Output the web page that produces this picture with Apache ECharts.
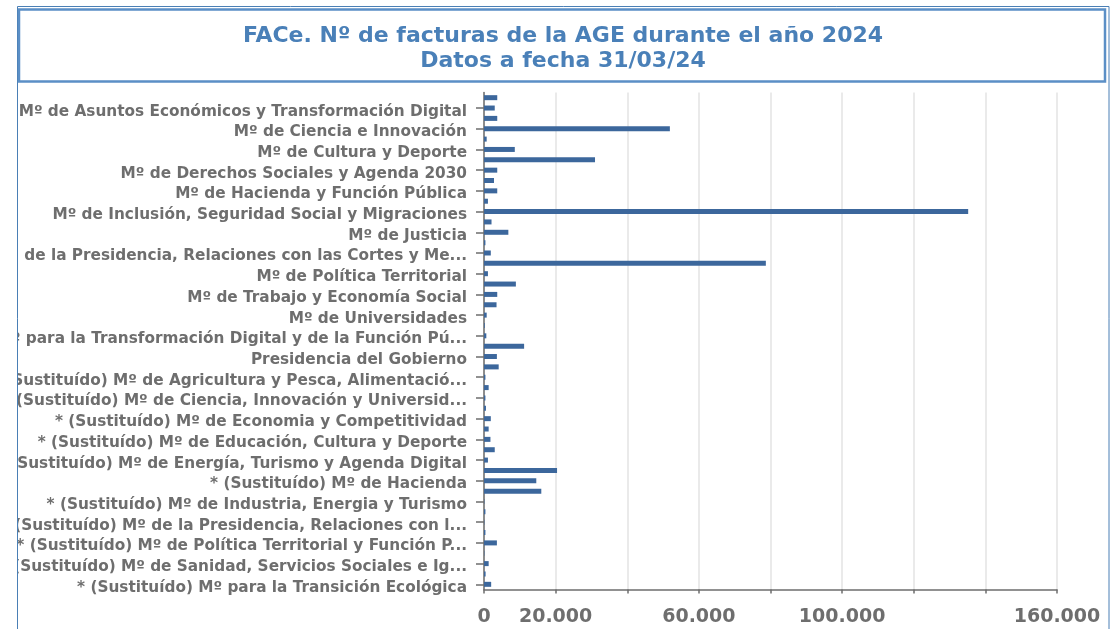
<!DOCTYPE html>
<html>
<head>
<meta charset="utf-8">
<script src="https://cdn.jsdelivr.net/npm/echarts@6/dist/echarts.min.js"></script>
<style>
html, body { margin: 0; padding: 0; background: #fff; }
#chart { width: 1116px; height: 629px; }
</style>
</head>
<body>
<div id="chart"></div>
<script>
// ministerios (orden del original, de arriba abajo)
var ministerios = [
    'Mº de Agricultura, Pesca y Alimentación',
    'Mº de Asuntos Económicos y Transformación Digital',
    'Mº de Asuntos Exteriores, Unión Europea y Cooperación',
    'Mº de Ciencia e Innovación',
    'Mº de Consumo',
    'Mº de Cultura y Deporte',
    'Mº de Defensa',
    'Mº de Derechos Sociales y Agenda 2030',
    'Mº de Educación y Formación Profesional',
    'Mº de Hacienda y Función Pública',
    'Mº de Igualdad',
    'Mº de Inclusión, Seguridad Social y Migraciones',
    'Mº de Industria, Comercio y Turismo',
    'Mº de Justicia',
    'Mº de Juventud e Infancia',
    'Mº de la Presidencia, Relaciones con las Cortes y Memoria Democrática',
    'Mº del Interior',
    'Mº de Política Territorial',
    'Mº de Sanidad',
    'Mº de Trabajo y Economía Social',
    'Mº de Transportes y Movilidad Sostenible',
    'Mº de Universidades',
    'Mº de Vivienda y Agenda Urbana',
    'Mº para la Transformación Digital y de la Función Pública',
    'Mº para la Transición Ecológica y el Reto Demográfico',
    'Presidencia del Gobierno',
    '* (Sustituído) Mº de Agricultura, Alimentación y Medio Ambiente',
    '* (Sustituído) Mº de Agricultura y Pesca, Alimentación y Medio Ambiente',
    '* (Sustituído) Mº de Asuntos Exteriores y de Cooperación',
    '* (Sustituído) Mº de Ciencia, Innovación y Universidades',
    '* (Sustituído) Mº de Cultura y Deporte',
    '* (Sustituído) Mº de Economia y Competitividad',
    '* (Sustituído) Mº de Economía y Empresa',
    '* (Sustituído) Mº de Educación, Cultura y Deporte',
    '* (Sustituído) Mº de Educación y Formación Profesional',
    '* (Sustituído) Mº de Energía, Turismo y Agenda Digital',
    '* (Sustituído) Mº de Fomento',
    '* (Sustituído) Mº de Hacienda',
    '* (Sustituído) Mº de Hacienda y Administraciones Públicas',
    '* (Sustituído) Mº de Industria, Energia y Turismo',
    '* (Sustituído) Mº de Justicia',
    '* (Sustituído) Mº de la Presidencia, Relaciones con las Cortes e Igualdad',
    '* (Sustituído) Mº de la Presidencia y para las Administraciones Territoriales',
    '* (Sustituído) Mº de Política Territorial y Función Pública',
    '* (Sustituído) Mº de Sanidad, Consumo y Bienestar Social',
    '* (Sustituído) Mº de Sanidad, Servicios Sociales e Igualdad',
    '* (Sustituído) Mº de Trabajo, Migraciones y Seguridad Social',
    '* (Sustituído) Mº para la Transición Ecológica'
];
// nº de facturas
var facturas = [
    3700, 3000, 3700, 51900, 750, 8600, 31000, 3700, 2800, 3700,
    1100, 135200, 2100, 6800, 400, 1900, 78700, 1100, 8900, 3700,
    3500, 750, 200, 650, 11200, 3600, 4100, 400, 1300, 400,
    550, 1900, 1300, 1800, 3000, 1100, 20400, 14600, 16000, 100,
    400, 100, 400, 3600, 100, 1300, 450, 2000
];
// etiquetas del eje x que se ven
var xTickLabels = [0, 20000, 60000, 100000, 160000];

var titulo = 'FACe. Nº de facturas de la AGE durante el año 2024\nDatos a fecha 31/03/24';

function miles(v) {
    return String(v).replace(/\B(?=(\d{3})+(?!\d))/g, '.');
}

var myChart = echarts.init(document.getElementById('chart'));
var option = {
    animation: false,
    title: {
        text: titulo,
        left: 563,
        top: 24,
        textAlign: 'center',
        padding: 0,
        textStyle: {
            fontFamily: 'DejaVu Sans',
            fontWeight: 'bold',
            fontSize: 22,
            lineHeight: 25,
            color: '#4a80b8'
        }
    },
    tooltip: {
        trigger: 'item'
    },
    grid: {
        left: 484,
        right: 59,
        top: 92.5,
        height: 497,
        containLabel: false,
        outerBoundsMode: 'none'
    },
    xAxis: {
        type: 'value',
        min: 0,
        max: 160000,
        interval: 20000,
        axisLine: {
            show: true,
            lineStyle: { color: '#6e6e6e', width: 1.5 }
        },
        axisTick: {
            show: true,
            length: 4,
            lineStyle: { color: '#6e6e6e', width: 1.5 }
        },
        splitLine: {
            show: true,
            lineStyle: { color: '#e3e3e3', width: 1.5 }
        },
        axisLabel: {
            margin: 18,
            fontFamily: 'DejaVu Sans',
            fontWeight: 'bold',
            fontSize: 19,
            color: '#6e6e6e',
            formatter: function (value) {
                return xTickLabels.indexOf(value) >= 0 ? miles(value) : '';
            }
        }
    },
    yAxis: {
        type: 'category',
        inverse: true,
        data: ministerios,
        axisLine: {
            show: true,
            lineStyle: { color: '#6e6e6e', width: 1.5 }
        },
        axisTick: {
            show: true,
            alignWithLabel: true,
            length: 8,
            interval: function (index) { return index % 2 === 1; },
            lineStyle: { color: '#6e6e6e', width: 1.5 }
        },
        axisLabel: {
            margin: 17,
            verticalAlign: 'top',
            lineHeight: 7,
            interval: function (index) { return index % 2 === 1; },
            fontFamily: 'DejaVu Sans',
            fontWeight: 'bold',
            fontSize: 15.3,
            color: '#6e6e6e',
            width: 482,
            overflow: 'truncate',
            ellipsis: '...'
        }
    },
    graphic: [
        {
            // tapa las etiquetas que se salen por la izquierda
            type: 'rect',
            z: 100,
            silent: true,
            shape: { x: 0, y: 0, width: 17, height: 629 },
            style: { fill: '#fff' }
        },
        {
            type: 'rect',
            z: 101,
            silent: true,
            shape: { x: 17.5, y: 6.5, width: 1091.5, height: 700 },
            style: { fill: 'none', stroke: '#4a7fb5', lineWidth: 1 }
        },
        {
            type: 'rect',
            z: 101,
            silent: true,
            shape: { x: 19, y: 9.5, width: 1086, height: 72 },
            style: { fill: 'none', stroke: '#5b8fc6', lineWidth: 2.5 }
        }
    ],
    series: [
        {
            name: 'Nº de facturas',
            type: 'bar',
            barWidth: 5,
            itemStyle: {
                color: '#3c679c'
            },
            data: facturas
        }
    ]
};
myChart.setOption(option);
</script>
</body>
</html>
